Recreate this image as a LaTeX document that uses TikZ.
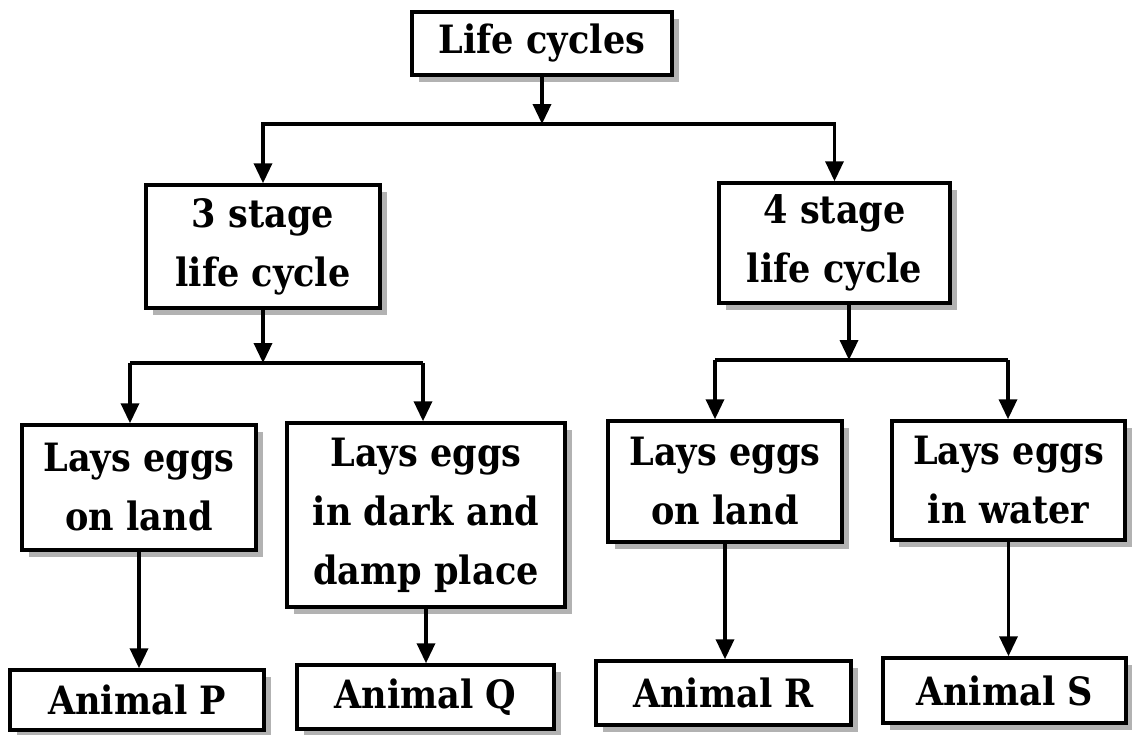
\documentclass[tikz,border=0pt]{standalone}
\usepackage{fontspec}
\setmainfont{DejaVu Serif}[FakeStretch=0.9]
\usetikzlibrary{arrows.meta,shadows}
\begin{document}
\begin{tikzpicture}[x=1pt,y=-1pt,
  box/.style={draw, line width=3.5pt, fill=white, inner sep=0pt, align=center,
    font=\fontsize{39}{59}\selectfont\bfseries,
    drop shadow={shadow xshift=7pt, shadow yshift=-7pt, fill=gray!60, opacity=1}},
  arr/.style={line width=3.5pt, -{Triangle[width=18pt,length=20pt]}},
  ln/.style={line width=3.5pt}]
\useasboundingbox (0,0) rectangle (1132,734);
\fill[white] (0,0) rectangle (1132,734);
% nodes
\node[box, minimum width=260pt, minimum height=63pt] (top) at (542,43.5) {Life cycles};
\node[box, minimum width=234pt, minimum height=123pt] (s3) at (263,246.5) {3 stage\\life cycle};
\node[box, minimum width=231pt, minimum height=120pt] (s4) at (834.5,243) {4 stage\\life cycle};
\node[box, minimum width=234pt, minimum height=125pt] (l1) at (139,487.5) {Lays eggs\\on land};
\node[box, minimum width=278pt, minimum height=184pt] (l2) at (426,515) {Lays eggs\\in dark and\\damp place};
\node[box, minimum width=234pt, minimum height=121pt] (l3) at (725,481.5) {Lays eggs\\on land};
\node[box, minimum width=233pt, minimum height=119pt] (l4) at (1008.5,480.5) {Lays eggs\\in water};
\node[box, minimum width=254pt, minimum height=60pt] (P) at (137,700) {Animal P};
\node[box, minimum width=257pt, minimum height=64pt] (Q) at (425.5,697) {Animal Q};
\node[box, minimum width=255pt, minimum height=64pt] (R) at (723.5,693) {Animal R};
\node[box, minimum width=243pt, minimum height=65pt] (S) at (1004.5,690.5) {Animal S};
% junctions
\coordinate (j1) at (542,124);
\coordinate (j2) at (263,363);
\coordinate (j2l) at (130,363);
\coordinate (j2r) at (423,363);
\coordinate (j3) at (849,360);
\coordinate (j3l) at (715,360);
\coordinate (j3r) at (1008,360);
% connectors
\draw[arr] (top.south) -- (j1);
\draw[arr] (j1) -| (s3.north);
\draw[arr] (j1) -| (s4.north);
\draw[arr] (s3.south) -- (j2);
\draw[ln] (j2l) -- (j2r);
\draw[arr] (j2l) -- (j2l |- l1.north);
\draw[arr] (j2r) -- (j2r |- l2.north);
\draw[arr] (s4.south -| j3) -- (j3);
\draw[ln] (j3l) -- (j3r);
\draw[arr] (j3l) -- (j3l |- l3.north);
\draw[arr] (j3r) -- (j3r |- l4.north);
\draw[arr] (l1.south) -- (l1.south |- P.north);
\draw[arr] (l2.south) -- (l2.south |- Q.north);
\draw[arr] (l3.south) -- (l3.south |- R.north);
\draw[arr] (l4.south) -- (l4.south |- S.north);
\end{tikzpicture}
\end{document}
